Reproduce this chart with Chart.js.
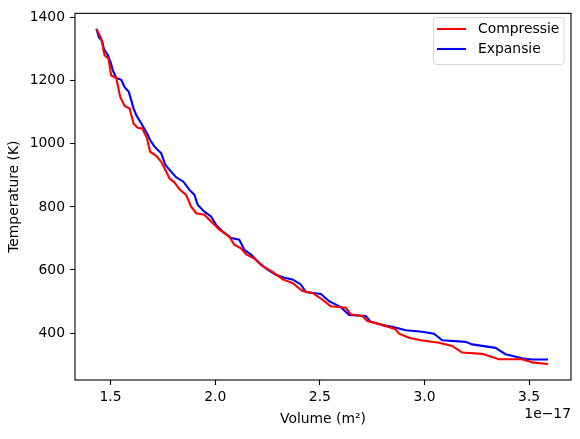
<!DOCTYPE html>
<html>
<head>
<meta charset="utf-8">
<script src="https://cdn.jsdelivr.net/npm/chart.js@4.4.1/dist/chart.umd.min.js"></script>
<style>
  body { margin: 0; background: #fff; }
  canvas { display: block; }
</style>
</head>
<body>
<canvas id="myChart" width="580" height="439"></canvas>
<script>
// volume in units of 1e-17 m^2, temperature in K
const compVolume = [1.433, 1.456, 1.471, 1.490, 1.503, 1.527, 1.546, 1.567, 1.591, 1.610,
    1.630, 1.651, 1.673, 1.689, 1.718, 1.742, 1.762, 1.781, 1.805, 1.829,
    1.861, 1.885, 1.909, 1.948, 1.980, 2.020, 2.067, 2.091, 2.123, 2.147,
    2.187, 2.226, 2.274, 2.322, 2.369, 2.417, 2.465, 2.512, 2.552, 2.624,
    2.648, 2.703, 2.727, 2.783, 2.862, 2.878, 2.926, 2.982, 3.069, 3.132,
    3.180, 3.275, 3.323, 3.355, 3.466, 3.522, 3.590];
const compTemp = [1364, 1333, 1281, 1270, 1217, 1209, 1149, 1120, 1112, 1064,
    1051, 1049, 1019, 975, 962, 943, 917, 891, 878, 856,
    838, 801, 780, 775, 754, 728, 706, 680, 669, 650,
    636, 612, 594, 570, 559, 533, 527, 506, 485, 480,
    459, 454, 438, 429, 412, 398, 385, 377, 369, 359,
    338, 334, 324, 317, 317, 306, 302];

const expVolume = [1.432, 1.444, 1.460, 1.468, 1.487, 1.500, 1.511, 1.527, 1.551, 1.567,
    1.587, 1.599, 1.610, 1.623, 1.642, 1.662, 1.678, 1.689, 1.710, 1.742,
    1.762, 1.789, 1.813, 1.848, 1.877, 1.901, 1.916, 1.948, 1.980, 2.004,
    2.036, 2.076, 2.115, 2.139, 2.171, 2.211, 2.250, 2.290, 2.330, 2.369,
    2.409, 2.433, 2.505, 2.544, 2.600, 2.640, 2.719, 2.743, 2.799, 2.846,
    2.910, 2.989, 3.045, 3.085, 3.196, 3.228, 3.339, 3.387, 3.466, 3.514,
    3.590];
const expTemp = [1365, 1338, 1325, 1301, 1281, 1259, 1233, 1209, 1203, 1180,
    1165, 1138, 1112, 1091, 1070, 1047, 1028, 1012, 991, 970,
    933, 912, 894, 880, 854, 838, 807, 785, 770, 743,
    722, 701, 696, 664, 649, 622, 601, 585, 575, 570,
    554, 530, 524, 501, 482, 457, 454, 436, 425, 420,
    409, 404, 398, 377, 372, 364, 353, 333, 320, 316,
    316];

const xTicks = [1.5, 2.0, 2.5, 3.0, 3.5];
const xTickLabels = ['1.5', '2.0', '2.5', '3.0', '3.5'];
const yTicks = [400, 600, 800, 1000, 1200, 1400];
const yTickLabels = ['400', '600', '800', '1000', '1200', '1400'];

const seriesNames = ['Compressie', 'Expansie'];
const seriesColors = ['#ff0000', '#0000ff'];

const FONT = 'DejaVu Sans';
const FS = 13.9;

function toPoints(xs, ys) {
    return xs.map((x, i) => ({ x: x, y: ys[i] }));
}

// spines on all four sides, legend box and the 1e-17 offset text
const framePlugin = {
    id: 'frame',
    afterDraw(chart) {
        const c = chart.ctx;
        const a = chart.chartArea;
        c.save();
        c.strokeStyle = '#000';
        c.lineWidth = 1.1;
        c.strokeRect(a.left, a.top, a.right - a.left, a.bottom - a.top);

        // legend
        const bx = 433.5, by = 17.5, bw = 130.5, bh = 47;
        c.beginPath();
        c.roundRect(bx, by, bw, bh, 3);
        c.fillStyle = 'rgba(255,255,255,0.8)';
        c.fill();
        c.strokeStyle = '#d6d6d6';
        c.lineWidth = 1;
        c.stroke();
        c.font = FS + 'px "' + FONT + '"';
        c.textBaseline = 'middle';
        c.textAlign = 'left';
        seriesNames.forEach((name, i) => {
            const y = 29 + i * 20;
            c.strokeStyle = seriesColors[i];
            c.lineWidth = 2.1;
            c.beginPath();
            c.moveTo(437, y);
            c.lineTo(466, y);
            c.stroke();
            c.fillStyle = '#000';
            c.fillText(name, 478, y);
        });

        c.textAlign = 'right';
        c.textBaseline = 'alphabetic';
        c.fillText('1e\u221217', 571, 418);
        c.restore();
    }
};

const ctx = document.getElementById('myChart');
new Chart(ctx, {
    type: 'line',
    data: {
        datasets: [
            {
                label: seriesNames[0],
                data: toPoints(compVolume, compTemp),
                borderColor: seriesColors[0],
                borderWidth: 2.1,
                pointRadius: 0,
                fill: false,
                tension: 0
            },
            {
                label: seriesNames[1],
                data: toPoints(expVolume, expTemp),
                borderColor: seriesColors[1],
                borderWidth: 2.1,
                pointRadius: 0,
                fill: false,
                tension: 0
            }
        ]
    },
    options: {
        responsive: false,
        animation: false,
        devicePixelRatio: 1,
        layout: { padding: { top: 11, right: 9, left: 0, bottom: 0 } },
        plugins: {
            legend: { display: false },
            tooltip: { enabled: false }
        },
        scales: {
            x: {
                type: 'linear',
                min: 1.33,
                max: 3.70,
                afterFit: (s) => { s.height = 59; },
                afterBuildTicks: (s) => { s.ticks = xTicks.map(v => ({ value: v })); },
                grid: { drawOnChartArea: false, tickLength: 5, tickColor: '#000', tickWidth: 1.1 },
                border: { display: false },
                ticks: {
                    color: '#000',
                    padding: 4,
                    maxRotation: 0,
                    font: { family: FONT, size: FS },
                    callback: (v) => xTickLabels[xTicks.indexOf(v)]
                },
                title: {
                    display: true,
                    text: 'Volume (m\u00b2)',
                    color: '#000',
                    font: { family: FONT, size: FS, lineHeight: 1.2 },
                    padding: { top: 0, bottom: 11 }
                }
            },
            y: {
                type: 'linear',
                min: 251,
                max: 1414,
                afterFit: (s) => { s.width = 75; },
                afterBuildTicks: (s) => { s.ticks = yTicks.map(v => ({ value: v })); },
                grid: { drawOnChartArea: false, tickLength: 5, tickColor: '#000', tickWidth: 1.1 },
                border: { display: false },
                ticks: {
                    color: '#000',
                    padding: 5,
                    font: { family: FONT, size: FS },
                    callback: (v) => yTickLabels[yTicks.indexOf(v)]
                },
                title: {
                    display: true,
                    text: 'Temperature (K)',
                    color: '#000',
                    font: { family: FONT, size: FS, lineHeight: 1.2 },
                    padding: { top: 6, bottom: 0 }
                }
            }
        }
    },
    plugins: [framePlugin]
});
</script>
</body>
</html>
